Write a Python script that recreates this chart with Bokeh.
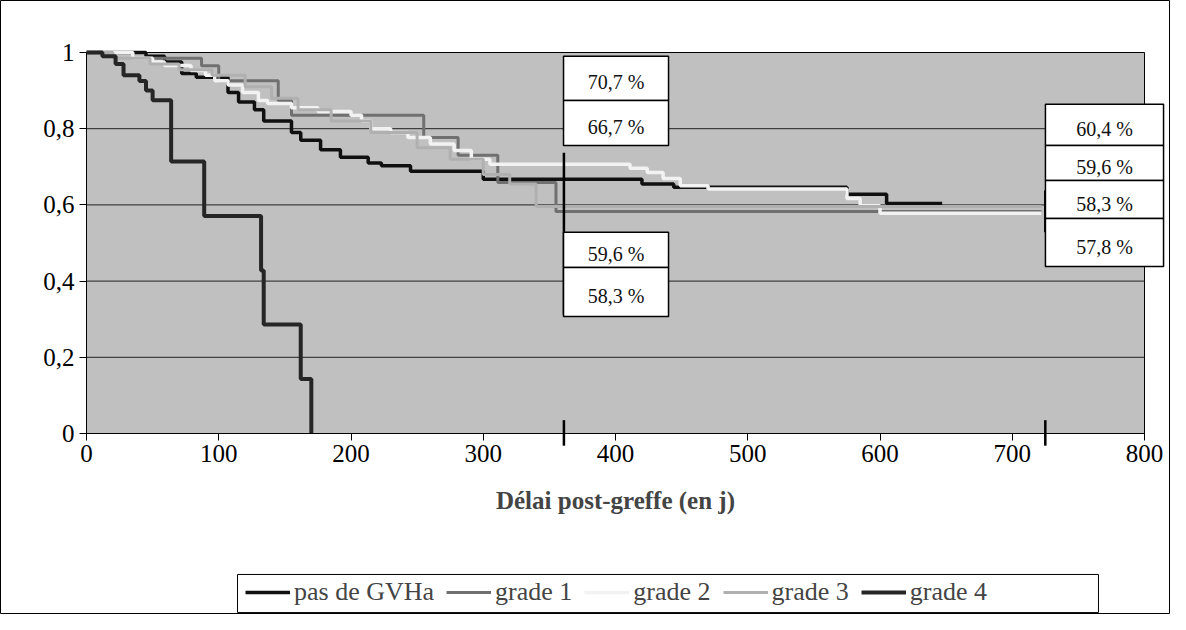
from bokeh.plotting import figure
from bokeh.models import (Legend, LegendItem, Range1d, LinearAxis, FixedTicker,
                          CustomJSTickFormatter)
from bokeh.embed import file_html
from bokeh.resources import INLINE
from bokeh.core.properties import value

# ---------------- data ----------------
series_names = ["pas de GVHa", "grade 1", "grade 2", "grade 3", "grade 4"]

t_none = [0, 45, 59, 72, 83, 107, 115, 127, 134, 155, 162, 177, 192, 213, 223, 245, 300, 420, 444, 575, 605, 647]
s_none = [1.0, 0.99, 0.975, 0.945, 0.935, 0.895, 0.87, 0.85, 0.82, 0.79, 0.77, 0.745, 0.725, 0.71, 0.703, 0.688, 0.667, 0.655, 0.646, 0.628, 0.604, 0.604]

t_g1 = [0, 35, 87, 100, 145, 155, 255, 281, 311, 355, 722]
s_g1 = [1.0, 0.985, 0.965, 0.926, 0.874, 0.835, 0.777, 0.73, 0.659, 0.583, 0.583]

t_g2 = [0, 35, 50, 59, 79, 90, 97, 107, 118, 130, 137, 155, 175, 200, 208, 215, 230, 243, 260, 278, 291, 305, 411, 424, 436, 449, 470, 575, 585, 600, 722]
s_g2 = [1.0, 0.985, 0.975, 0.966, 0.953, 0.94, 0.926, 0.915, 0.895, 0.874, 0.866, 0.855, 0.845, 0.835, 0.82, 0.80, 0.79, 0.777, 0.76, 0.743, 0.72, 0.707, 0.696, 0.685, 0.669, 0.65, 0.642, 0.617, 0.598, 0.578, 0.578]

t_g3 = [0, 20, 48, 70, 95, 120, 140, 160, 185, 215, 250, 275, 300, 320, 340, 722]
s_g3 = [1.0, 0.985, 0.97, 0.955, 0.94, 0.91, 0.88, 0.85, 0.82, 0.79, 0.75, 0.72, 0.68, 0.655, 0.596, 0.596]

t_g4 = [0, 12, 22, 28, 40, 45, 50, 64, 89, 132, 134, 162, 170, 170]
s_g4 = [1.0, 0.99, 0.97, 0.94, 0.925, 0.90, 0.875, 0.714, 0.571, 0.428, 0.286, 0.143, 0.0, 0.0]

x_ticks = [0, 100, 200, 300, 400, 500, 600, 700, 800]
y_ticks = [0, 0.2, 0.4, 0.6, 0.8, 1]

mark_days = [361, 725]          # 1 year / 2 years marks
labels_1y_top = ["70,7 %", "66,7 %"]
labels_1y_bottom = ["59,6 %", "58,3 %"]
labels_2y = ["60,4 %", "59,6 %", "58,3 %", "57,8 %"]

# ---------------- styling ----------------
colors = ["#101010", "#707070", "#f2f2f2", "#b0b0b0", "#262626"]
widths = [3.5, 3, 3.5, 3, 4]
FONT = "Liberation Serif"

W, H = 1170, 614
PXD = 1.3225     # px per day
PXS = 381.0      # px per unit of survival
X0, Y0 = 86, 433  # figure px of (0, 0)

p = figure(width=W, height=H,
           x_range=Range1d(-X0 / PXD, (W - X0) / PXD),
           y_range=Range1d(-(H - Y0) / PXS, Y0 / PXS),
           output_backend="svg", toolbar_location=None,
           x_axis_location=None, y_axis_location=None,
           min_border=0)
p.outline_line_color = "black"
p.outline_line_width = 1
p.background_fill_color = "white"
p.border_fill_color = "white"
p.xgrid.visible = False
p.ygrid.visible = False

# plot area
p.quad(left=x_ticks[0], right=x_ticks[-1], bottom=y_ticks[0], top=y_ticks[-1],
       fill_color="#c0c0c0", line_color="black", line_width=1)
# grid lines
p.segment(x0=[x_ticks[0]] * 4, x1=[x_ticks[-1]] * 4, y0=y_ticks[1:-1], y1=y_ticks[1:-1],
          line_color="#222222", line_width=1)

# curves
renderers = []
for t, s, c, w in zip([t_none, t_g1, t_g2, t_g3, t_g4], [s_none, s_g1, s_g2, s_g3, s_g4], colors, widths):
    r = p.step(t, s, mode="after", line_color=c, line_width=w)
    renderers.append(r)

# year marks
d1 = 0.035
p.segment(x0=mark_days, x1=mark_days, y0=[d1, d1], y1=[-0.032, -0.032], line_color="black", line_width=2.5)
p.segment(x0=mark_days, x1=mark_days, y0=[0.737, 0.638], y1=[0.312, 0.528], line_color="black", line_width=2.5)

# annotation boxes
def boxes(x_left, x_right, edges, texts):
    tops = edges[:-1]
    bots = edges[1:]
    p.quad(left=[x_left] * len(tops), right=[x_right] * len(tops), top=tops, bottom=bots,
           fill_color="white", line_color="black", line_width=1.5)
    ys = [(a + b) / 2 for a, b in zip(tops, bots)]
    p.text(x=[(x_left + x_right) / 2] * len(ys), y=ys, text=texts,
           text_font=value(FONT), text_font_size="20px", text_align="center",
           text_baseline="middle", y_offset=4, text_color="#111111")

boxes(360.7, 440.1, [0.99, 0.874, 0.756], labels_1y_top)
boxes(360.7, 440.1, [0.528, 0.436, 0.307], labels_1y_bottom)
boxes(725.1, 814.4, [0.864, 0.756, 0.664, 0.564, 0.438], labels_2y)

# axes
xaxis = LinearAxis(fixed_location=0, bounds=(x_ticks[0], x_ticks[-1]),
                   ticker=FixedTicker(ticks=x_ticks))
yaxis = LinearAxis(fixed_location=0, bounds=(y_ticks[0], y_ticks[-1]),
                   ticker=FixedTicker(ticks=y_ticks),
                   formatter=CustomJSTickFormatter(code="return String(tick).replace('.', ',');"))
for ax in (xaxis, yaxis):
    ax.major_label_text_font = FONT
    ax.major_label_text_font_size = "25px"
    ax.major_label_text_color = "black"
    ax.axis_line_color = "black"
    ax.major_tick_line_color = "black"
    ax.major_tick_in = 0
    ax.major_tick_out = 7
    ax.minor_tick_line_color = None
xaxis.major_label_standoff = 4
xaxis.axis_label = "Délai post-greffe (en j)"
xaxis.axis_label_text_font = FONT
xaxis.axis_label_text_font_style = "bold"
xaxis.axis_label_text_font_size = "25px"
xaxis.axis_label_standoff = 22
p.add_layout(xaxis, "below")
p.add_layout(yaxis, "left")

# legend frame
p.quad(left=114.2, right=765.2, top=-0.370, bottom=-0.470,
       fill_color="white", line_color="black", line_width=1)

legend = Legend(items=[LegendItem(label=n, renderers=[r]) for n, r in zip(series_names, renderers)],
                orientation="horizontal", location=(241, 3),
                label_text_font=FONT, label_text_font_size="26px",
                glyph_width=45, glyph_height=20, label_standoff=4, spacing=12,
                padding=4, margin=0, border_line_alpha=0, background_fill_alpha=0)
p.add_layout(legend)

open("out.html", "w").write(file_html(p, INLINE))
